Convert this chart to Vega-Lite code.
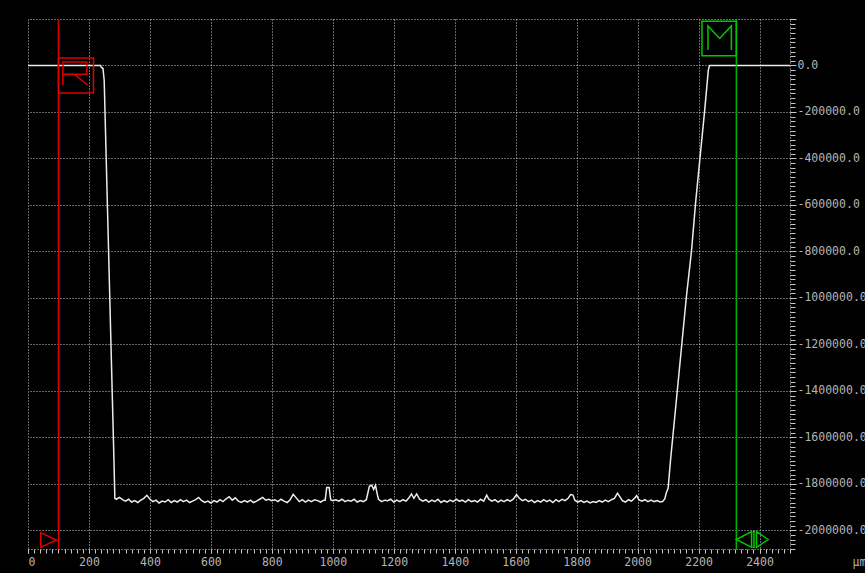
{
  "$schema": "https://vega.github.io/schema/vega-lite/v6.json",
  "width": 762,
  "height": 530,
  "autosize": {"type": "none"},
  "padding": {"left": 28, "top": 19, "right": 75, "bottom": 24},
  "background": "#000000",
  "config": {
    "view": {"stroke": null},
    "axis": {
      "labelFont": "DejaVu Sans Mono",
      "labelFontSize": 11.5,
      "labelColor": "#b4b4b4",
      "tickColor": "#c8c8c8",
      "domainColor": "#d0d0d0",
      "gridColor": "#d0d0d0",
      "gridDash": [1, 2],
      "domainDash": [1, 2],
      "titleFont": "DejaVu Sans Mono",
      "titleFontSize": 11.5,
      "titleFontWeight": "normal",
      "titleColor": "#b4b4b4"
    }
  },
  "datasets": {
    "trace": [
      {"d": 0, "v": 0}, {"d": 238, "v": 0}, {"d": 241, "v": -8600}, {"d": 246, "v": -13000}, {"d": 250, "v": -64500}, {"d": 282, "v": -1699000}, {"d": 285, "v": -1862000},
      {"d": 290, "v": -1866000}, {"d": 300, "v": -1858000}, {"d": 310, "v": -1868000}, {"d": 320, "v": -1874000}, {"d": 330, "v": -1866000}, {"d": 340, "v": -1878000}, {"d": 350, "v": -1872000}, {"d": 360, "v": -1880000}, {"d": 370, "v": -1870000}, {"d": 380, "v": -1862000}, {"d": 390, "v": -1849000}, {"d": 400, "v": -1866000}, {"d": 410, "v": -1876000}, {"d": 420, "v": -1870000}, {"d": 430, "v": -1882000}, {"d": 440, "v": -1874000}, {"d": 450, "v": -1878000}, {"d": 460, "v": -1868000}, {"d": 470, "v": -1880000}, {"d": 480, "v": -1872000}, {"d": 490, "v": -1878000}, {"d": 500, "v": -1868000}, {"d": 510, "v": -1876000}, {"d": 520, "v": -1870000}, {"d": 530, "v": -1880000}, {"d": 540, "v": -1874000}, {"d": 550, "v": -1868000}, {"d": 560, "v": -1858000}, {"d": 570, "v": -1872000}, {"d": 580, "v": -1880000}, {"d": 590, "v": -1874000}, {"d": 600, "v": -1882000}, {"d": 610, "v": -1872000}, {"d": 620, "v": -1878000}, {"d": 630, "v": -1868000}, {"d": 640, "v": -1876000}, {"d": 650, "v": -1864000}, {"d": 660, "v": -1855000}, {"d": 670, "v": -1870000}, {"d": 680, "v": -1860000}, {"d": 690, "v": -1874000}, {"d": 700, "v": -1880000}, {"d": 710, "v": -1872000}, {"d": 720, "v": -1878000}, {"d": 730, "v": -1870000}, {"d": 740, "v": -1880000}, {"d": 750, "v": -1874000}, {"d": 760, "v": -1866000}, {"d": 770, "v": -1858000}, {"d": 780, "v": -1870000}, {"d": 790, "v": -1866000}, {"d": 800, "v": -1872000}, {"d": 810, "v": -1868000}, {"d": 820, "v": -1876000}, {"d": 830, "v": -1866000}, {"d": 840, "v": -1874000}, {"d": 850, "v": -1880000}, {"d": 860, "v": -1868000}, {"d": 870, "v": -1845000}, {"d": 880, "v": -1860000}, {"d": 890, "v": -1876000}, {"d": 900, "v": -1868000}, {"d": 910, "v": -1878000}, {"d": 920, "v": -1870000}, {"d": 930, "v": -1876000}, {"d": 940, "v": -1868000}, {"d": 950, "v": -1872000}, {"d": 960, "v": -1878000}, {"d": 970, "v": -1870000}, {"d": 975, "v": -1870000}, {"d": 980, "v": -1815000}, {"d": 988, "v": -1815000}, {"d": 993, "v": -1868000}, {"d": 1000, "v": -1872000}, {"d": 1010, "v": -1868000}, {"d": 1020, "v": -1874000}, {"d": 1030, "v": -1866000}, {"d": 1040, "v": -1876000}, {"d": 1050, "v": -1870000}, {"d": 1060, "v": -1874000}, {"d": 1070, "v": -1866000}, {"d": 1080, "v": -1878000}, {"d": 1090, "v": -1872000}, {"d": 1100, "v": -1876000}, {"d": 1110, "v": -1868000}, {"d": 1120, "v": -1810000}, {"d": 1128, "v": -1806000}, {"d": 1134, "v": -1824000}, {"d": 1140, "v": -1806000}, {"d": 1146, "v": -1845000}, {"d": 1150, "v": -1866000}, {"d": 1160, "v": -1876000}, {"d": 1170, "v": -1870000}, {"d": 1180, "v": -1872000}, {"d": 1190, "v": -1866000}, {"d": 1200, "v": -1878000}, {"d": 1210, "v": -1870000}, {"d": 1220, "v": -1876000}, {"d": 1230, "v": -1868000}, {"d": 1240, "v": -1874000}, {"d": 1250, "v": -1860000}, {"d": 1258, "v": -1843000}, {"d": 1266, "v": -1862000}, {"d": 1275, "v": -1843000}, {"d": 1285, "v": -1866000}, {"d": 1295, "v": -1874000}, {"d": 1305, "v": -1868000}, {"d": 1315, "v": -1878000}, {"d": 1325, "v": -1870000}, {"d": 1335, "v": -1876000}, {"d": 1345, "v": -1866000}, {"d": 1355, "v": -1880000}, {"d": 1365, "v": -1872000}, {"d": 1375, "v": -1878000}, {"d": 1385, "v": -1870000}, {"d": 1395, "v": -1876000}, {"d": 1405, "v": -1866000}, {"d": 1415, "v": -1874000}, {"d": 1425, "v": -1870000}, {"d": 1435, "v": -1878000}, {"d": 1445, "v": -1868000}, {"d": 1455, "v": -1876000}, {"d": 1465, "v": -1872000}, {"d": 1475, "v": -1878000}, {"d": 1485, "v": -1866000}, {"d": 1495, "v": -1874000}, {"d": 1505, "v": -1848000}, {"d": 1512, "v": -1866000}, {"d": 1522, "v": -1874000}, {"d": 1532, "v": -1868000}, {"d": 1542, "v": -1878000}, {"d": 1552, "v": -1870000}, {"d": 1562, "v": -1876000}, {"d": 1572, "v": -1868000}, {"d": 1582, "v": -1874000}, {"d": 1592, "v": -1866000}, {"d": 1603, "v": -1846000}, {"d": 1612, "v": -1862000}, {"d": 1622, "v": -1872000}, {"d": 1632, "v": -1866000}, {"d": 1642, "v": -1876000}, {"d": 1652, "v": -1870000}, {"d": 1662, "v": -1880000}, {"d": 1672, "v": -1872000}, {"d": 1682, "v": -1878000}, {"d": 1692, "v": -1868000}, {"d": 1702, "v": -1876000}, {"d": 1712, "v": -1870000}, {"d": 1722, "v": -1880000}, {"d": 1732, "v": -1868000}, {"d": 1742, "v": -1876000}, {"d": 1752, "v": -1866000}, {"d": 1762, "v": -1872000}, {"d": 1772, "v": -1862000}, {"d": 1780, "v": -1846000}, {"d": 1788, "v": -1848000}, {"d": 1794, "v": -1870000}, {"d": 1804, "v": -1878000}, {"d": 1814, "v": -1872000}, {"d": 1824, "v": -1880000}, {"d": 1834, "v": -1874000}, {"d": 1844, "v": -1882000}, {"d": 1854, "v": -1876000}, {"d": 1864, "v": -1880000}, {"d": 1874, "v": -1872000}, {"d": 1884, "v": -1878000}, {"d": 1894, "v": -1870000}, {"d": 1904, "v": -1876000}, {"d": 1914, "v": -1868000}, {"d": 1924, "v": -1862000}, {"d": 1934, "v": -1840000}, {"d": 1942, "v": -1856000}, {"d": 1950, "v": -1872000}, {"d": 1960, "v": -1878000}, {"d": 1970, "v": -1868000}, {"d": 1980, "v": -1874000}, {"d": 1990, "v": -1862000}, {"d": 1997, "v": -1850000}, {"d": 2004, "v": -1868000}, {"d": 2014, "v": -1874000}, {"d": 2024, "v": -1868000}, {"d": 2034, "v": -1876000}, {"d": 2044, "v": -1870000}, {"d": 2054, "v": -1876000}, {"d": 2064, "v": -1872000}, {"d": 2074, "v": -1878000}, {"d": 2082, "v": -1876000},
      {"d": 2089, "v": -1865000}, {"d": 2095, "v": -1835000}, {"d": 2100, "v": -1820000}, {"d": 2108, "v": -1699000}, {"d": 2144, "v": -1213000}, {"d": 2160, "v": -996000}, {"d": 2177, "v": -796000}, {"d": 2190, "v": -594000}, {"d": 2207, "v": -366000}, {"d": 2220, "v": -194000}, {"d": 2232, "v": -20000}, {"d": 2236, "v": 0}, {"d": 2500, "v": 0}
    ],
    "cursors": [
      {"name": "R", "pos": 100, "level": 0, "bottom": -2080000},
      {"name": "M", "pos": 2324, "level": 200000, "bottom": -2080000}
    ]
  },
  "layer": [
    {
      "data": {"name": "trace"},
      "mark": {"type": "line", "stroke": "#ececec", "strokeWidth": 1.5, "interpolate": "linear"},
      "encoding": {
        "x": {
          "field": "d", "type": "quantitative",
          "scale": {"domain": [0, 2500], "nice": false, "zero": false},
          "axis": {
            "orient": "bottom",
            "values": [0, 200, 400, 600, 800, 1000, 1200, 1400, 1600, 1800, 2000, 2200, 2400],
            "format": "d",
            "grid": true, "ticks": true, "tickSize": 4, "labelPadding": 3,
            "labelFlush": true, "domain": true,
            "title": "μm", "titleX": 824, "titleY": 13, "titleAlign": "left", "titleBaseline": "middle", "titleAngle": 0
          }
        },
        "y": {
          "field": "v", "type": "quantitative",
          "scale": {"domain": [-2080000, 200000], "nice": false, "zero": false},
          "axis": {
            "orient": "right",
            "values": [-2000000, -1800000, -1600000, -1400000, -1200000, -1000000, -800000, -600000, -400000, -200000, 0, 200000],
            "grid": true, "ticks": true, "tickSize": 6, "labelPadding": 1, "domain": true,
            "labelExpr": "datum.value > 0 ? '' : (datum.value < 0 ? '-' : '') + format(abs(datum.value), '.1f')",
            "labelBaseline": "middle", "labelAlign": "left",
            "title": null
          }
        }
      }
    },
    {
      "data": {"name": "cursors"},
      "mark": {"type": "rule", "strokeWidth": 1.5},
      "encoding": {
        "x": {"field": "pos", "type": "quantitative", "scale": {"domain": [0, 2500], "nice": false, "zero": false}, "axis": null},
        "color": {"field": "name", "type": "nominal", "scale": {"domain": ["R", "M"], "range": ["#e00000", "#00b400"]}, "legend": null}
      }
    },
    {
      "data": {"name": "cursors"},
      "transform": [{"filter": "datum.name == 'R'"}],
      "mark": {
        "type": "point", "filled": false, "stroke": "#e00000", "strokeWidth": 1.5, "opacity": 1,
        "shape": "M-1,-1L1,-1L1,1L-1,1Z M-0.75,0.56L-0.75,-0.77L0.62,-0.77L0.62,-0.07L-0.75,-0.07 M-0.09,-0.07L0.67,0.56",
        "size": 1225, "xOffset": 17.5, "yOffset": 10
      },
      "encoding": {
        "x": {
          "field": "pos", "type": "quantitative", "scale": {"domain": [0, 2500], "nice": false, "zero": false},
          "axis": {"orient": "bottom", "tickCount": 125, "labels": false, "grid": false, "domain": false, "ticks": true, "tickSize": 4, "title": null}
        },
        "y": {
          "field": "level", "type": "quantitative", "scale": {"domain": [-2080000, 200000], "nice": false, "zero": false},
          "axis": {"orient": "right", "tickCount": 114, "labels": false, "grid": false, "domain": false, "ticks": true, "tickSize": 5, "title": null}
        }
      }
    },
    {
      "data": {"name": "cursors"},
      "transform": [{"filter": "datum.name == 'M'"}],
      "mark": {
        "type": "point", "filled": false, "stroke": "#00c800", "strokeWidth": 1.5, "opacity": 1,
        "shape": "M-1,-1L1,-1L1,1L-1,1Z M-0.65,0.67L-0.65,-0.73L0.03,0L0.71,-0.73L0.71,0.67",
        "size": 1183, "xOffset": -17.2, "yOffset": 19.5
      },
      "encoding": {
        "x": {"field": "pos", "type": "quantitative", "scale": {"domain": [0, 2500], "nice": false, "zero": false}, "axis": null},
        "y": {"field": "level", "type": "quantitative", "scale": {"domain": [-2080000, 200000], "nice": false, "zero": false}, "axis": null}
      }
    },
    {
      "data": {"name": "cursors"},
      "transform": [{"filter": "datum.name == 'R'"}],
      "mark": {
        "type": "point", "filled": false, "stroke": "#e00000", "strokeWidth": 1.5, "opacity": 1,
        "shape": "M-1,-0.92L0.96,0L-1,0.92Z",
        "size": 256, "xOffset": -9.8, "yOffset": -9
      },
      "encoding": {
        "x": {"field": "pos", "type": "quantitative", "scale": {"domain": [0, 2500], "nice": false, "zero": false}, "axis": null},
        "y": {"field": "bottom", "type": "quantitative", "scale": {"domain": [-2080000, 200000], "nice": false, "zero": false}, "axis": null}
      }
    },
    {
      "data": {"name": "cursors"},
      "transform": [{"filter": "datum.name == 'M'"}],
      "mark": {
        "type": "point", "filled": false, "stroke": "#00c800", "strokeWidth": 1.5, "opacity": 1,
        "shape": "M-1,0L-0.05,-0.49L-0.05,0.49Z M0.99,0L0.26,-0.49L0.26,0.49Z M0.1,-0.49L0.1,0.49 M0.02,-0.49L0.18,-0.49 M0.02,0.49L0.18,0.49",
        "size": 1024, "xOffset": 16, "yOffset": -9.5
      },
      "encoding": {
        "x": {"field": "pos", "type": "quantitative", "scale": {"domain": [0, 2500], "nice": false, "zero": false}, "axis": null},
        "y": {"field": "bottom", "type": "quantitative", "scale": {"domain": [-2080000, 200000], "nice": false, "zero": false}, "axis": null}
      }
    }
  ],
  "resolve": {"axis": {"x": "independent", "y": "independent"}}
}
